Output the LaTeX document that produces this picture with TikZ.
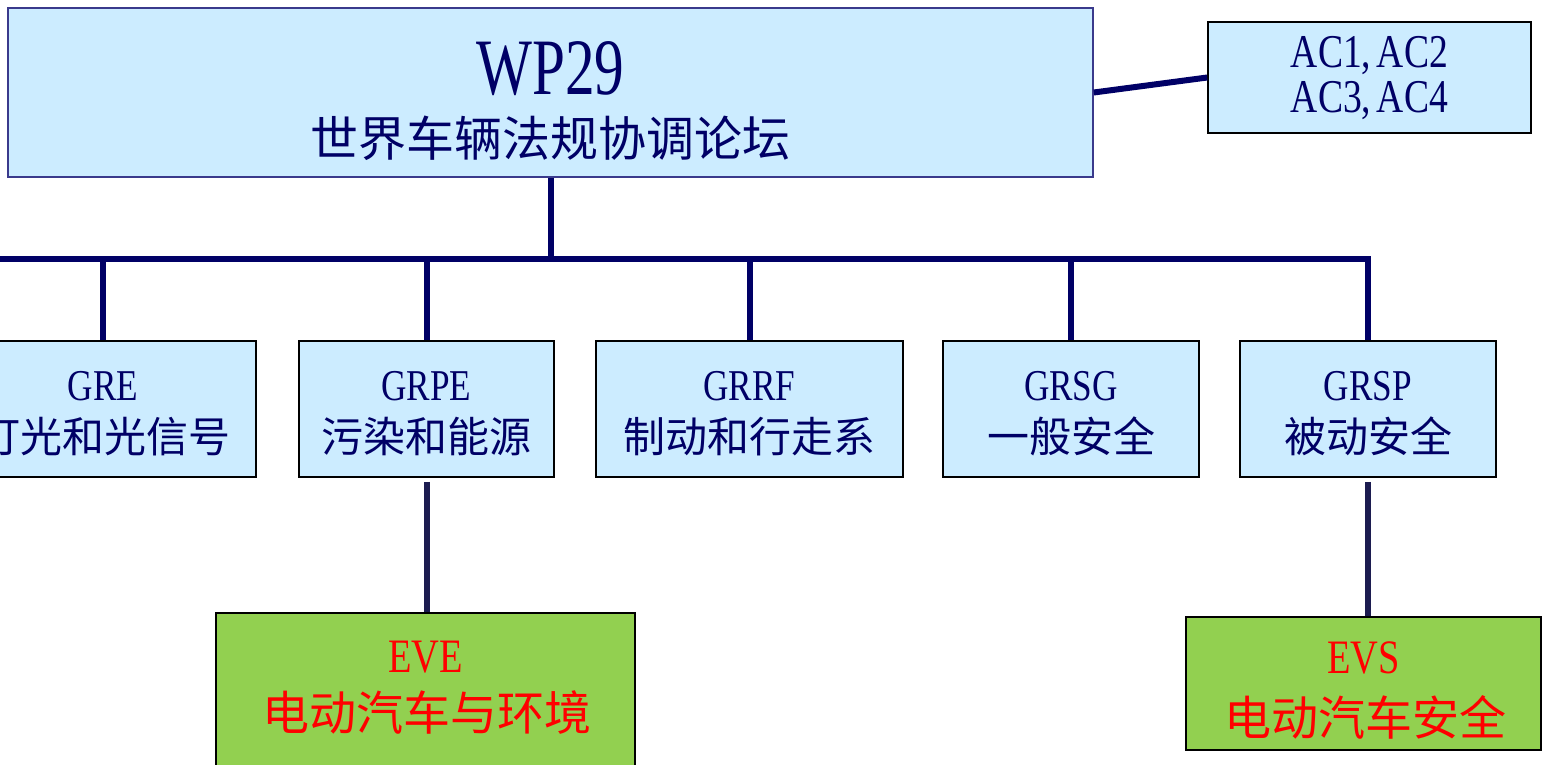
\documentclass[tikz,border=0pt]{standalone}
\usepackage{fontspec}
\setmainfont{Liberation Serif}[FakeStretch=0.8]
\newfontfamily\wpfont{Liberation Serif}[FakeStretch=0.74]
\newfontfamily\cjk{Noto Sans CJK SC}
\definecolor{navy}{HTML}{000066}
\definecolor{darkline}{HTML}{1C1C50}
\definecolor{lightblue}{HTML}{CCECFF}
\definecolor{leaf}{HTML}{92D050}
\definecolor{wpborder}{HTML}{3A3A8C}
\tikzset{
  bluebox/.style={draw=black, line width=1.6pt, fill=lightblue, inner sep=0pt},
  greenbox/.style={draw=black, line width=2pt, fill=leaf, inner sep=0pt},
  busline/.style={draw=navy, line width=6pt},
  subline/.style={draw=darkline, line width=6pt},
  lbl/.style={anchor=base, inner sep=0pt, text=navy},
  redlbl/.style={anchor=base, inner sep=0pt, text=red},
}
\begin{document}
\begin{tikzpicture}[x=1pt,y=-1pt]
\clip (0,0) rectangle (1543,765);
\fill[white] (0,0) rectangle (1543,765);
% boxes
\node[bluebox, draw=wpborder, minimum width=1085pt, minimum height=169pt] (wp) at (550.5,92.5) {};
\node[bluebox, minimum width=323pt, minimum height=111pt] (ac) at (1369.5,77.5) {};
\node[bluebox, minimum width=306pt, minimum height=136pt] (gre) at (103,409) {};
\node[bluebox, minimum width=255pt, minimum height=136pt] (grpe) at (426.5,409) {};
\node[bluebox, minimum width=307pt, minimum height=136pt] (grrf) at (749.5,409) {};
\node[bluebox, minimum width=256pt, minimum height=136pt] (grsg) at (1071,409) {};
\node[bluebox, minimum width=256pt, minimum height=136pt] (grsp) at (1368,409) {};
\node[greenbox, minimum width=419pt, minimum height=187pt] (eve) at (425.5,706.5) {};
\node[greenbox, minimum width=355pt, minimum height=133pt] (evs) at (1363.5,683.5) {};
% connectors
\coordinate (busL) at (-10,259);
\draw[busline] (wp.east) -- (ac.west);
\draw[busline] (wp.south) -- (wp.south |- busL);
\draw[busline] (busL) -| (grsp.north);
\foreach \b in {gre,grpe,grrf,grsg}{
  \draw[busline] (\b.north |- busL) -- (\b.north);
}
\draw[subline, shorten <=4pt] (grpe.south) -- (grpe.south |- eve.north);
\draw[subline, shorten <=4pt] (grsp.south) -- (grsp.south |- evs.north);
% texts
\node[lbl] (wpA) at (550.5,95) {\fontsize{80}{80}\selectfont\wpfont WP29};
\node[lbl] (wpB) at (550.5,157) {\fontsize{48}{48}\selectfont\cjk 世界车辆法规协调论坛};
\node[lbl] (acA) at (1369.5,68) {\fontsize{47}{47}\selectfont AC1,\kern0.12em AC2};
\node[lbl] (acB) at (1369.5,113) {\fontsize{47}{47}\selectfont AC3,\kern0.12em AC4};
\node[lbl] (greA) at (103,400) {\fontsize{44}{44}\selectfont GRE};
\node[lbl] (greB) at (105,452) {\fontsize{42}{42}\selectfont\cjk 灯光和光信号};
\node[lbl] (grpeA) at (426.5,400) {\fontsize{44}{44}\selectfont GRPE};
\node[lbl] (grpeB) at (426.5,452) {\fontsize{42}{42}\selectfont\cjk 污染和能源};
\node[lbl] (grrfA) at (749.5,400) {\fontsize{44}{44}\selectfont GRRF};
\node[lbl] (grrfB) at (749.5,452) {\fontsize{42}{42}\selectfont\cjk 制动和行走系};
\node[lbl] (grsgA) at (1071,400) {\fontsize{44}{44}\selectfont GRSG};
\node[lbl] (grsgB) at (1071,452) {\fontsize{42}{42}\selectfont\cjk 一般安全};
\node[lbl] (grspA) at (1368,400) {\fontsize{44}{44}\selectfont GRSP};
\node[lbl] (grspB) at (1368,452) {\fontsize{42}{42}\selectfont\cjk 被动安全};
\node[redlbl] (eveA) at (425.5,672) {\fontsize{48}{48}\selectfont EVE};
\node[redlbl] (eveB) at (427,730) {\fontsize{47}{47}\selectfont\cjk 电动汽车与环境};
\node[redlbl] (evsA) at (1363.5,673) {\fontsize{48}{48}\selectfont EVS};
\node[redlbl] (evsB) at (1365,735) {\fontsize{47}{47}\selectfont\cjk 电动汽车安全};
\end{tikzpicture}
\end{document}
